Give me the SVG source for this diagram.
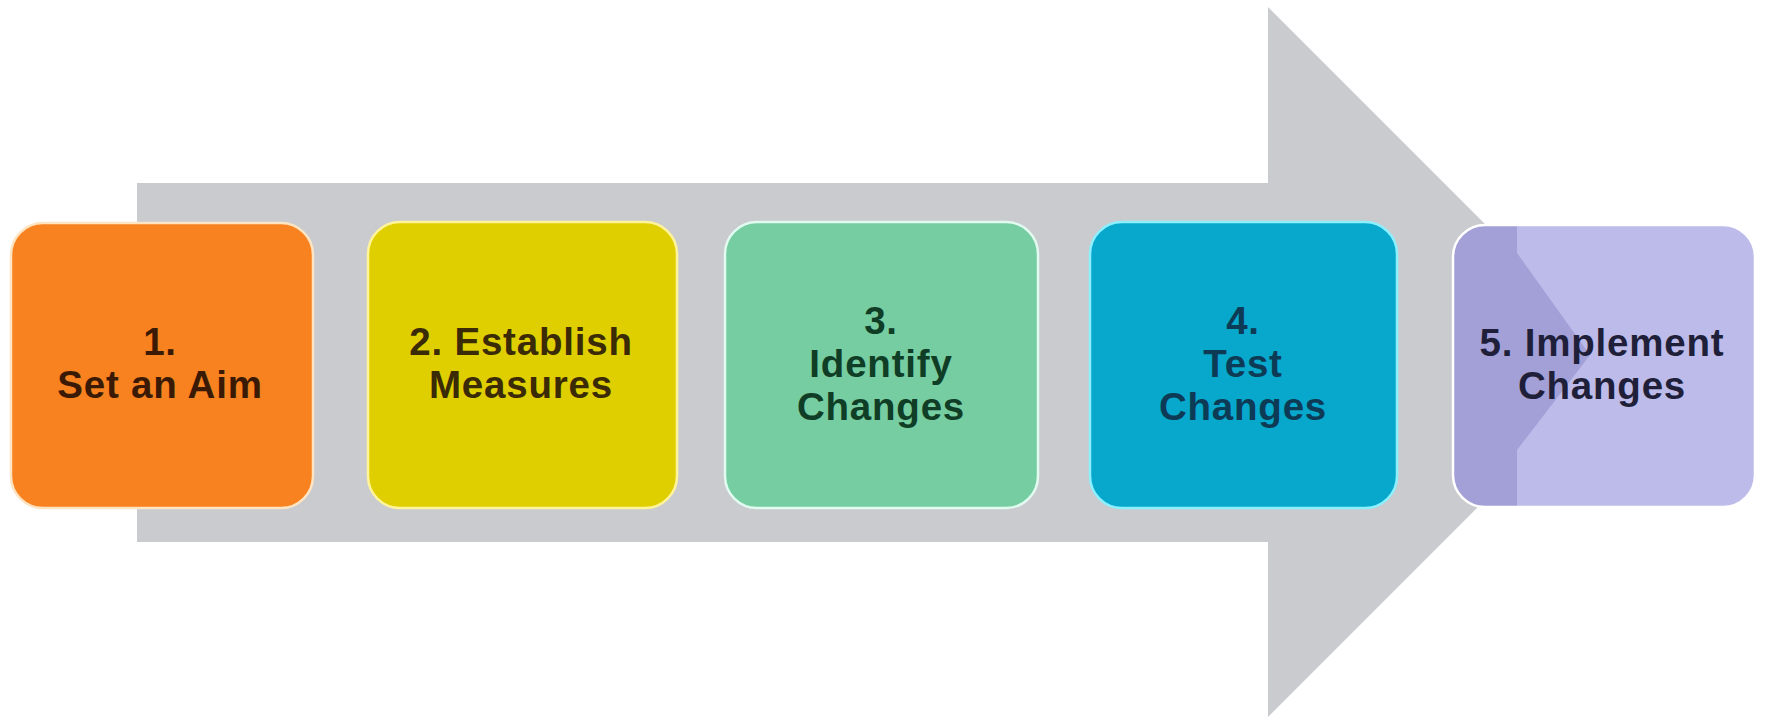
<svg xmlns="http://www.w3.org/2000/svg" width="1774" height="721" viewBox="0 0 1774 721">
  <defs>
    <style>
      .lbl { font-family: "Liberation Sans", Arial, sans-serif; font-weight: bold; font-size: 38.5px; letter-spacing: 0.8px; text-anchor: middle; }
      .box { stroke-width: 2.5; }
    </style>
    <clipPath id="clip5">
      <rect x="1453" y="225" width="302" height="282" rx="32" ry="32"/>
    </clipPath>
  </defs>
  <rect x="0" y="0" width="1774" height="721" fill="#ffffff"/>

  <g id="connectors">
    <polygon id="big-arrow" points="137,183 1268,183 1268,7 1623,362 1268,717 1268,542 137,542" fill="#C9CBCE"/>
  </g>

  <g id="node1">
    <rect class="box" x="11" y="223" width="302" height="285" rx="32" ry="32" fill="#F7821F" stroke="#FFE4C2"/>
    <text class="lbl" fill="#3A1A05" x="160" y="355">1.</text>
    <text class="lbl" fill="#3A1A05" x="160" y="398">Set an Aim</text>
  </g>

  <g id="node2">
    <rect class="box" x="368" y="222" width="309" height="286" rx="32" ry="32" fill="#DFCF00" stroke="#FFF49A"/>
    <text class="lbl" fill="#3A2A05" x="521" y="355">2. Establish</text>
    <text class="lbl" fill="#3A2A05" x="521" y="398">Measures</text>
  </g>

  <g id="node3">
    <rect class="box" x="725" y="222" width="313" height="286" rx="32" ry="32" fill="#76CDA1" stroke="#E2FBF0"/>
    <text class="lbl" fill="#0F3D26" x="881" y="334">3.</text>
    <text class="lbl" fill="#0F3D26" x="881" y="377">Identify</text>
    <text class="lbl" fill="#0F3D26" x="881" y="420">Changes</text>
  </g>

  <g id="node4">
    <rect class="box" x="1090" y="222" width="307" height="286" rx="32" ry="32" fill="#08A7CC" stroke="#8CF0FF"/>
    <text class="lbl" fill="#0D3B55" x="1243" y="334">4.</text>
    <text class="lbl" fill="#0D3B55" x="1243" y="377">Test</text>
    <text class="lbl" fill="#0D3B55" x="1243" y="420">Changes</text>
  </g>

  <g id="node5">
    <rect x="1453" y="225" width="302" height="282" rx="32" ry="32" fill="#BDBBEA"/>
    <polygon clip-path="url(#clip5)" points="1453,225 1517,225 1517,253 1590,355 1517,450 1517,507 1453,507" fill="#A3A0D8"/>
    <rect x="1453" y="225" width="302" height="282" rx="32" ry="32" fill="none" stroke="#FFFFFF" stroke-width="2.5"/>
    <text class="lbl" fill="#1F1F3A" x="1602" y="356">5. Implement</text>
    <text class="lbl" fill="#1F1F3A" x="1602" y="399">Changes</text>
  </g>
</svg>
